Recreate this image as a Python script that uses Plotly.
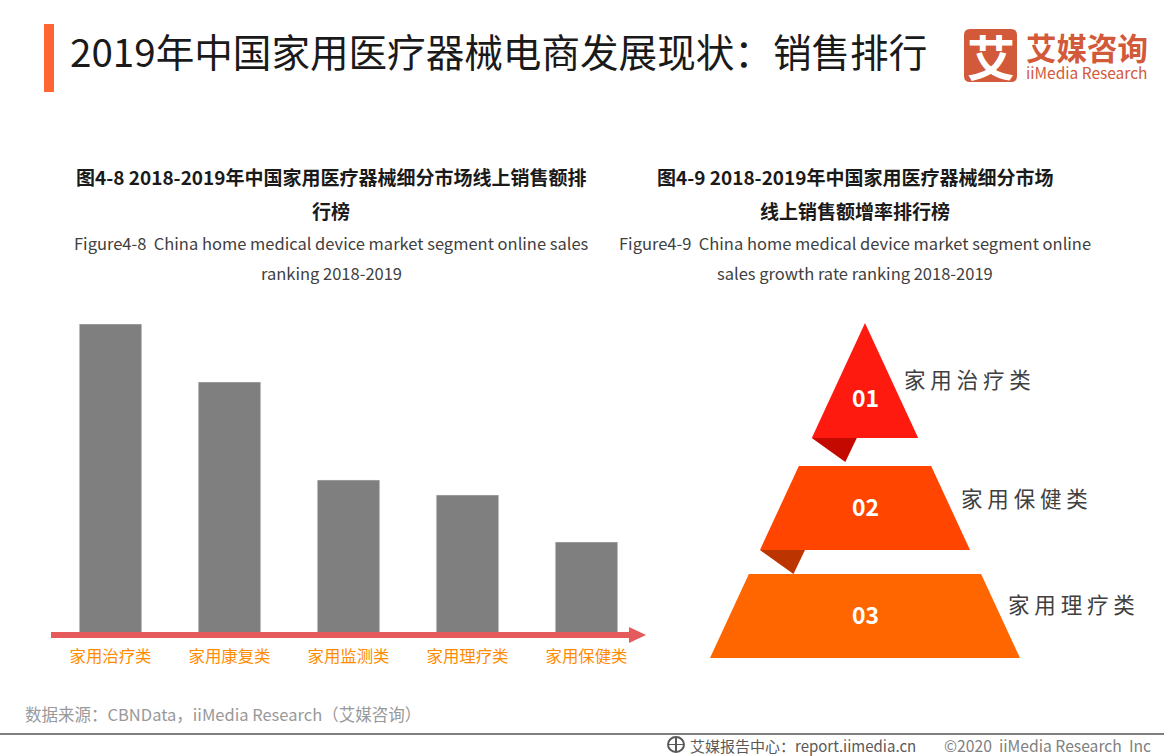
from plotly.subplots import make_subplots
import plotly.graph_objects as go

# Definir datos
categorias = ['家用治疗类', '家用康复类', '家用监测类', '家用理疗类', '家用保健类']
ventas = [309, 251, 153, 138, 91]  # sin escala

ranking = ['01', '02', '03']
ranking_nombres = ['家用治疗类', '家用保健类', '家用理疗类']
nivel_arriba = [0, 143, 251]  # profundidad desde el vertice
nivel_abajo = [115, 227, 335]
colores_nivel = ['#FF1A10', '#FF4500', '#FF6600']
colores_pliegue = ['#C40A00', '#BC3500']
pendiente = 155 / 335

ANCHO = 1164
ALTO = 756
FUENTE = 'Noto Sans CJK SC'

# Funciones para pasar de pixeles a papel
def px(x):
    return x / ANCHO

def py(y):
    return 1 - y / ALTO

def texto(x, y, contenido, size, color, xanchor='center', bold=False):
    if bold:
        contenido = f'<b>{contenido}</b>'
    fig.add_annotation(x=px(x), y=py(y), xref='paper', yref='paper', text=contenido, showarrow=False,
                       xanchor=xanchor, yanchor='middle', font=dict(family=FUENTE, size=size, color=color))

def caja(x0, y0, x1, y1, color):
    fig.add_shape(type='rect', xref='paper', yref='paper', x0=px(x0), y0=py(y0), x1=px(x1), y1=py(y1),
                  fillcolor=color, line_width=0, layer='above')

# Crear subplots
fig = make_subplots(rows=1, cols=2)

# Grafico 1: Ventas
fig.add_trace(
    go.Bar(x=categorias, y=ventas, marker_color='#7F7F7F', width=0.525),
    row=1, col=1
)

# Grafico 2: Piramide
for i in range(3):
    a = nivel_arriba[i]
    b = nivel_abajo[i]
    fig.add_trace(
        go.Scatter(x=[-a * pendiente, a * pendiente, b * pendiente, -b * pendiente, -a * pendiente],
                   y=[a, a, b, b, a], mode='lines', fill='toself', fillcolor=colores_nivel[i], line_width=0),
        row=1, col=2
    )
    if i < 2:  # pliegue oscuro
        izq = -b * pendiente
        fig.add_trace(
            go.Scatter(x=[izq, izq + 45, izq + 33.5, izq], y=[b, b, b + 24, b], mode='lines', fill='toself',
                       fillcolor=colores_pliegue[i], line_width=0),
            row=1, col=2
        )

fig.add_trace(
    go.Scatter(x=[0.5, 0.5, 0.5], y=[78, 187, 295], mode='text', text=[f'<b>{r}</b>' for r in ranking],
               textfont=dict(family=FUENTE, size=23, color='#FFFFFF'), cliponaxis=False),
    row=1, col=2
)
fig.add_trace(
    go.Scatter(x=[39, 96, 143], y=[60, 179, 285], mode='text', text=[' '.join(n) for n in ranking_nombres],
               textposition='middle right', textfont=dict(family=FUENTE, size=21.5, color='#404040'), cliponaxis=False),
    row=1, col=2
)

# Ejes
fig.update_xaxes(domain=[px(51), px(646)], range=[-0.5, 4.5], showgrid=False, zeroline=False, showline=False,
                 ticks='outside', ticklen=8, tickcolor='rgba(0,0,0,0)',
                 tickfont=dict(family=FUENTE, size=16.4, color='#FF8C00'), row=1, col=1)
fig.update_yaxes(domain=[py(633), py(324)], range=[0, 309], visible=False, row=1, col=1)
fig.update_xaxes(domain=[px(700), px(1164)], range=[-165, 299], visible=False, row=1, col=2)
fig.update_yaxes(domain=[py(658), py(323)], range=[335, 0], visible=False, row=1, col=2)

# Encabezado
caja(44, 24, 54, 92, '#FF6633')
texto(68, 50, '2019年中国家用医疗器械电商发展现状\uff1a销售排行', 38.6, '#1A1A1A', 'left')

# Logo
fig.add_shape(type='path', xref='paper', yref='paper', fillcolor='#D2593A', line_width=0,
              path=f'M {px(970)} {py(29)} L {px(1011)} {py(29)} Q {px(1017)} {py(29)} {px(1017)} {py(35)} '
                   f'L {px(1017)} {py(76)} Q {px(1017)} {py(82)} {px(1011)} {py(82)} L {px(970)} {py(82)} '
                   f'Q {px(964)} {py(82)} {px(964)} {py(76)} L {px(964)} {py(35)} Q {px(964)} {py(29)} {px(970)} {py(29)} Z')
texto(990.5, 55, '艾', 48, '#FFFFFF', bold=True)
texto(1087, 47, '艾媒咨询', 30.5, '#D2593A', bold=True)
texto(1087, 72, 'iiMedia Research', 15.5, '#D2593A')

# Titulos de los graficos
texto(331, 176, '图4-8 2018-2019年中国家用医疗器械细分市场线上销售额排', 19, '#1A1A1A', bold=True)
texto(331, 211, '行榜', 19, '#1A1A1A', bold=True)
texto(331, 243, 'Figure4-8  China home medical device market segment online sales', 16.5, '#404040')
texto(331, 273, 'ranking 2018-2019', 16.5, '#404040')
texto(855, 176, '图4-9 2018-2019年中国家用医疗器械细分市场', 19, '#1A1A1A', bold=True)
texto(855, 211, '线上销售额增率排行榜', 19, '#1A1A1A', bold=True)
texto(855, 243, 'Figure4-9  China home medical device market segment online', 16.5, '#404040')
texto(855, 273, 'sales growth rate ranking 2018-2019', 16.5, '#404040')

# Flecha del eje
caja(51, 632, 630, 638, '#E55A5A')
fig.add_shape(type='path', xref='paper', yref='paper', fillcolor='#E55A5A', line_width=0, layer='above',
              path=f'M {px(629)} {py(627)} L {px(646)} {py(635)} L {px(629)} {py(643)} Z')

# Pie de pagina
texto(23, 714, '数据来源\uff1aCBNData\uff0ciiMedia Research\uff08艾媒咨询\uff09', 16.5, '#999999', 'left')
caja(0, 733, 1164, 735, '#808080')
fig.add_shape(type='circle', xref='paper', yref='paper', x0=px(668), y0=py(737), x1=px(684), y1=py(752),
              line=dict(color='#595959', width=2))
caja(668, 744, 684, 745, '#595959')
caja(675, 737, 677, 752, '#595959')
texto(688, 745, '艾媒报告中心\uff1areport.iimedia.cn', 15, '#595959', 'left')
texto(942, 745, '©2020  iiMedia Research  Inc', 15.7, '#808080', 'left')

# Actualizar layout
fig.update_layout(width=ANCHO, height=ALTO, margin=dict(l=0, r=0, t=0, b=0), showlegend=False,
                  plot_bgcolor='#FFFFFF', paper_bgcolor='#FFFFFF')
fig.write_html("out.html", post_script="document.body.style.margin = '0';", config={'displayModeBar': False})
